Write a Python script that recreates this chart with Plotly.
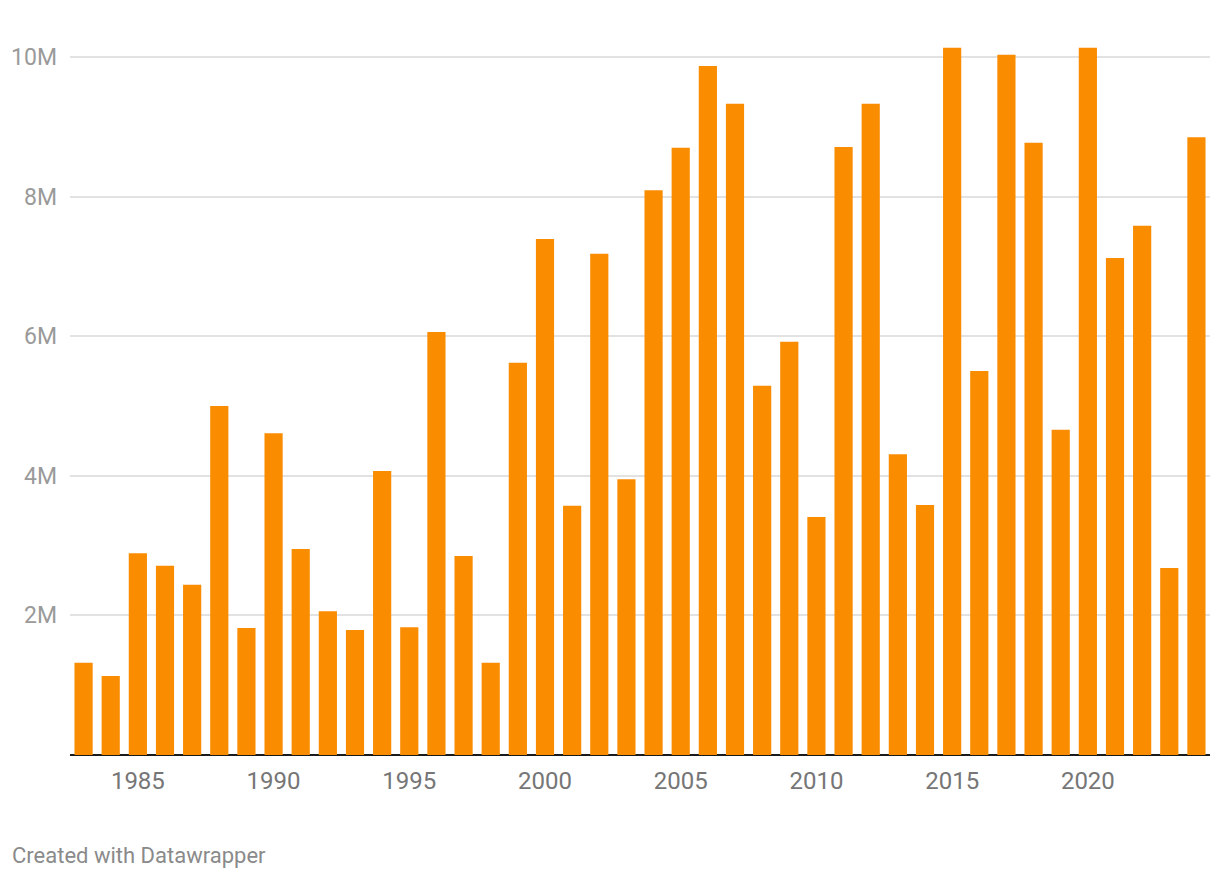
import plotly.graph_objects as go

years = list(range(1983, 2025))
values_m = [1.32, 1.13, 2.89, 2.71, 2.44, 5.00, 1.82, 4.61, 2.95, 2.06,
            1.79, 4.07, 1.83, 6.06, 2.85, 1.32, 5.62, 7.39, 3.57, 7.18,
            3.95, 8.09, 8.70, 9.87, 9.33, 5.29, 5.92, 3.41, 8.71, 9.33,
            4.31, 3.58, 10.13, 5.50, 10.03, 8.77, 4.66, 10.13, 7.12, 7.58,
            2.68, 8.85]
values = [v * 1e6 for v in values_m]

y_ticks = [2e6, 4e6, 6e6, 8e6, 10e6]
y_tick_labels = ["2M", "4M", "6M", "8M", "10M"]
x_ticks = [1985, 1990, 1995, 2000, 2005, 2010, 2015, 2020]
x_tick_labels = [str(t) for t in x_ticks]

# page body has an 8px margin; figure sized to fit the window
W, H = 1212, 870
L, R, T, B = 62, 10, 21, 123
plot_w = W - L - R
plot_h = H - T - B

fig = go.Figure()
fig.add_trace(go.Bar(
    x=years, y=values,
    marker=dict(color="#fa8c00", line=dict(width=0)),
    hoverinfo="x+y",
))

fig.update_layout(
    width=W, height=H,
    margin=dict(l=L, r=R, t=T, b=B, autoexpand=False),
    paper_bgcolor="white", plot_bgcolor="white",
    bargap=0.33,
    showlegend=False,
    font=dict(family="Roboto", size=23, color="#888888"),
    xaxis=dict(
        range=[1982.5, 2024.5],
        tickmode="array", tickvals=x_ticks, ticktext=x_tick_labels,
        showgrid=False, zeroline=False,
        showline=False, automargin=False,
        ticks="", ticklabelstandoff=9,
        tickfont=dict(size=24, color="#767676"),
    ),
    yaxis=dict(
        range=[0, 10.4e6],
        tickmode="array", tickvals=y_ticks, ticktext=y_tick_labels,
        showgrid=True, gridcolor="#e2e2e2", gridwidth=1.5,
        zeroline=True, zerolinecolor="#1a1a1a", zerolinewidth=2,
        showline=False, ticks="", automargin=False,
        ticklabelstandoff=12,
        tickfont=dict(size=23, color="#9a9a9a"),
    ),
    annotations=[dict(
        text="Created with Datawrapper",
        xref="paper", yref="paper",
        x=-(L - 2) / plot_w, y=-(847 - 747) / plot_h,
        xanchor="left", yanchor="middle",
        showarrow=False,
        font=dict(family="Roboto", size=22, color="#8a8a8a"),
    )],
)

fig.write_html("out.html")
